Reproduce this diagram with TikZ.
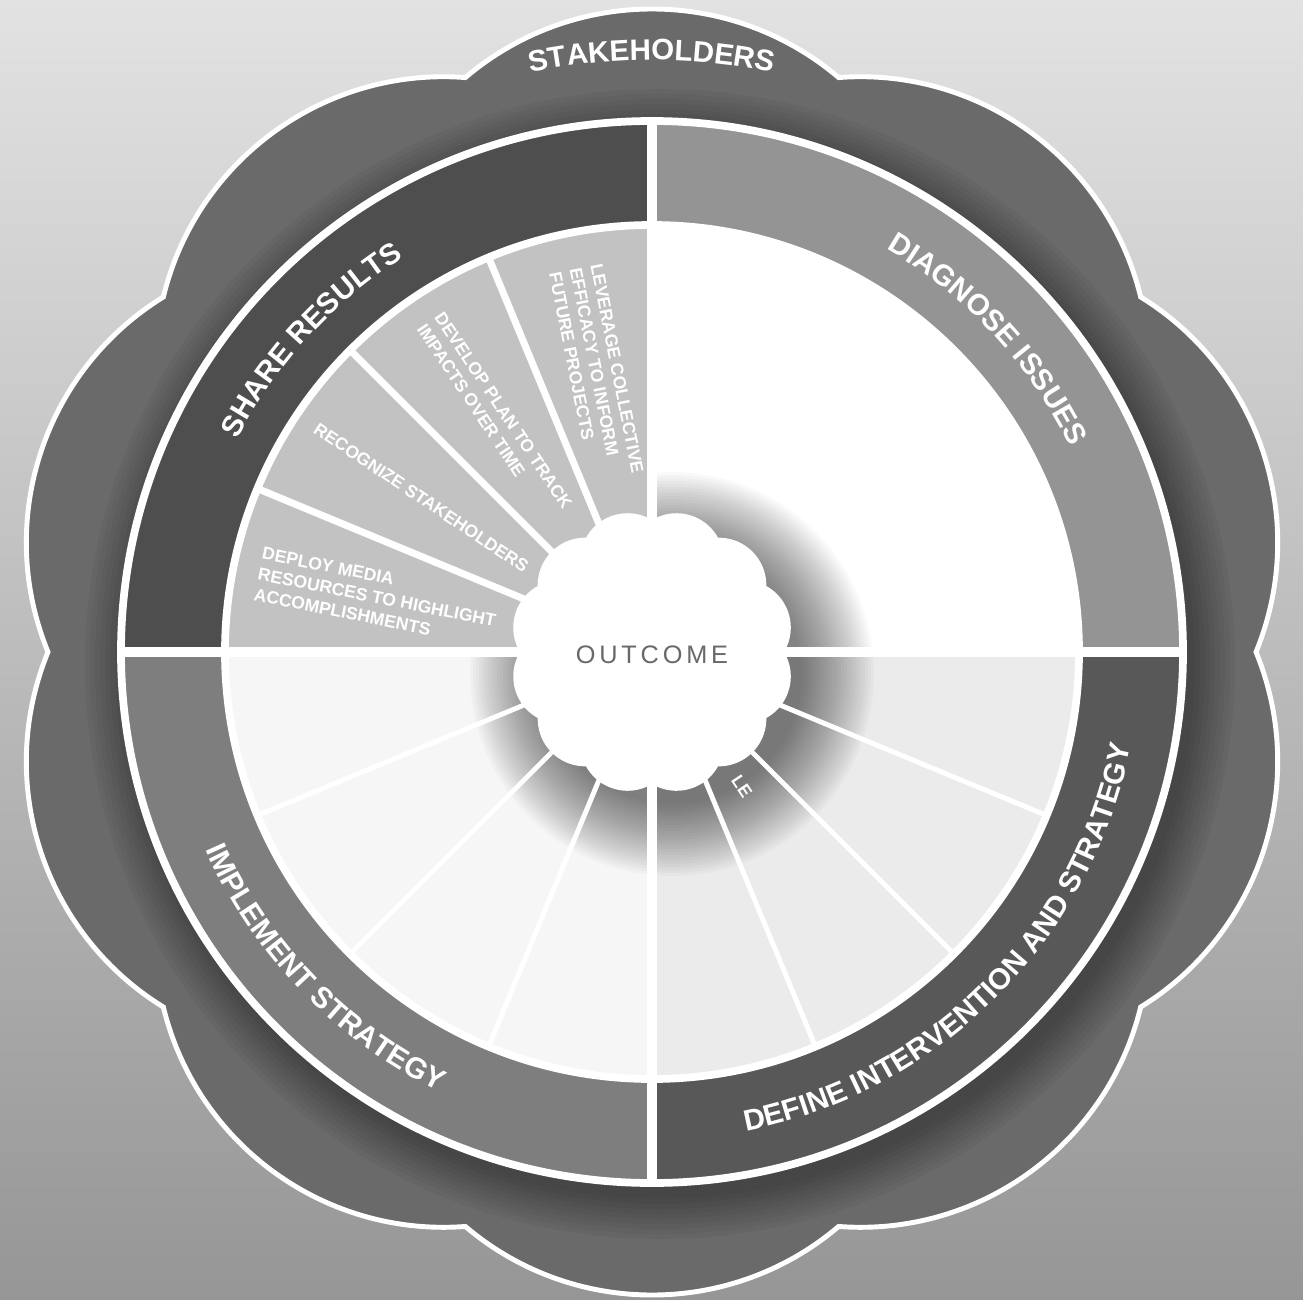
\documentclass[tikz,border=0pt]{standalone}
\usepackage{fontspec}
\setmainfont{Liberation Sans}
\usepackage{xcolor}
\definecolor{flowergray}{RGB}{106,106,106}
\definecolor{sharegray}{RGB}{78,78,78}
\definecolor{diaggray}{RGB}{148,148,148}
\definecolor{defgray}{RGB}{88,88,88}
\definecolor{implgray}{RGB}{126,126,126}
\definecolor{wedgegray}{RGB}{194,194,194}
\definecolor{deffill}{RGB}{235,235,235}
\definecolor{implfill}{RGB}{246,246,246}
\definecolor{bgtop}{RGB}{226,226,226}
\definecolor{bgbot}{RGB}{150,150,150}
\definecolor{outtext}{RGB}{105,105,105}
\usepackage{tikz}
\usetikzlibrary{decorations.text}
\newcommand{\bandfont}{\bfseries\fontsize{8.4}{8.4}\selectfont}
\newcommand{\flowerpath}{(72:6.04) \foreach \a in {90,126,...,414}{arc[start angle=\a-40.34, end angle=\a+40.34, radius=2.8835]} -- cycle}
\tikzset{
  bandlabel/.style={decorate, decoration={text along path, text align=center,
                    text color=white, text={|\bandfont|#1}}},
  sectortext/.style={font=\bfseries\fontsize{5}{6}\selectfont, text=white,
                     align=left, inner sep=0pt, anchor=west},
  divider/.style={white, line width=2.8pt},
  spoke/.style={white, line width=2pt},
  thinspoke/.style={white, line width=1.4pt},
  ring/.style={white, line width=2.2pt},
}

\begin{document}
\begin{tikzpicture}
  \useasboundingbox (-6.52,-6.47) rectangle (6.51,6.52);
  \shade[top color=bgtop, bottom color=bgbot] (-6.52,-6.47) rectangle (6.51,6.52);
  % Stakeholder flower
  \fill[flowergray] \flowerpath;
  \begin{scope}
    \clip \flowerpath;
    \foreach \k in {0,...,8}
      \fill[black, opacity=0.04] (0.08,-0.12) circle ({5.35+0.05*\k});
  \end{scope}
  \draw[white, line width=1.4pt] \flowerpath;
  % Stage band
  \foreach \a/\c in {0/diaggray,90/sharegray,180/implgray,270/defgray}
    \fill[\c] (\a:5.31) arc[start angle=\a, end angle=\a+90, radius=5.31]
      -- (\a+90:4.27) arc[start angle=\a+90, end angle=\a, radius=4.27] -- cycle;
  % Inner quadrants
  \foreach \a/\c in {0/white,90/wedgegray,180/implfill,270/deffill}
    \fill[\c] (0,0) -- (\a:4.27) arc[start angle=\a, end angle=\a+90, radius=4.27] -- cycle;
  % Shadow round the outcome
  \begin{scope}
    \clip (0,0) -- (90:4.27) arc[start angle=90, end angle=-180, radius=4.27] -- cycle;
    \foreach \k in {0,...,24}
      \fill[black, opacity=0.022] (0.2,-0.22) circle ({1.3+0.03*\k});
  \end{scope}
  % Spokes, dividers, rings
  \foreach \a in {112.5,135,157.5}
    \draw[spoke] (0,0) -- (\a:4.27);
  \foreach \a in {-22.5,-45,-67.5,202.5,225,247.5}
    \draw[thinspoke] (0,0) -- (\a:4.27);
  \draw[divider] (0,-5.31) -- (0,5.31);
  \draw[divider] (-5.31,0) -- (5.31,0);
  \draw[ring] (0,0) circle (4.27);
  \draw[ring] (0,0) circle (5.31);
  % Outcome cloud
  \fill[white] (0:1.32) \foreach \k in {0,...,11}{arc[start angle=\k*30+15-46, end angle=\k*30+15+46, radius=0.4749]} -- cycle;
  \node[font=\fontsize{7.2}{7.2}\selectfont\addfontfeatures{LetterSpace=15}, text=outtext] (outcome) at (0,-0.03) {OUTCOME};
  % Band labels
  \path[bandlabel={STAKEHOLDERS}] (110:5.92) arc[start angle=110, end angle=70, radius=5.92];
  \path[bandlabel={SHARE RESULTS}] (177.5:4.66) arc[start angle=177.5, end angle=97.5, radius=4.66];
  \path[bandlabel={DIAGNOSE ISSUES}] (83:4.66) arc[start angle=83, end angle=3, radius=4.66];
  \path[bandlabel={DEFINE INTERVENTION AND STRATEGY}] (-85:4.88) arc[start angle=-85, end angle=-5, radius=4.88];
  \path[bandlabel={IMPLEMENT STRATEGY}] (184:4.88) arc[start angle=184, end angle=264, radius=4.88];
  % Share results steps
  \node[sectortext, rotate=-11.25] (deploy) at (168.75:4.02) {DEPLOY MEDIA\\RESOURCES TO HIGHLIGHT\\ACCOMPLISHMENTS};
  \node[sectortext, rotate=-33.75] (recognize) at (146.25:4.05) {RECOGNIZE STAKEHOLDERS};
  \node[sectortext, rotate=-56.25] (develop) at (123.75:4.0) {DEVELOP PLAN TO TRACK\\IMPACTS OVER TIME};
  \node[sectortext, rotate=-78.75] (leverage) at (101.25:3.92) {LEVERAGE COLLECTIVE\\EFFICACY TO INFORM\\FUTURE PROJECTS};
  \node[sectortext, rotate=-56.25] (lefrag) at (-56.25:1.5) {LE};
\end{tikzpicture}
\end{document}
